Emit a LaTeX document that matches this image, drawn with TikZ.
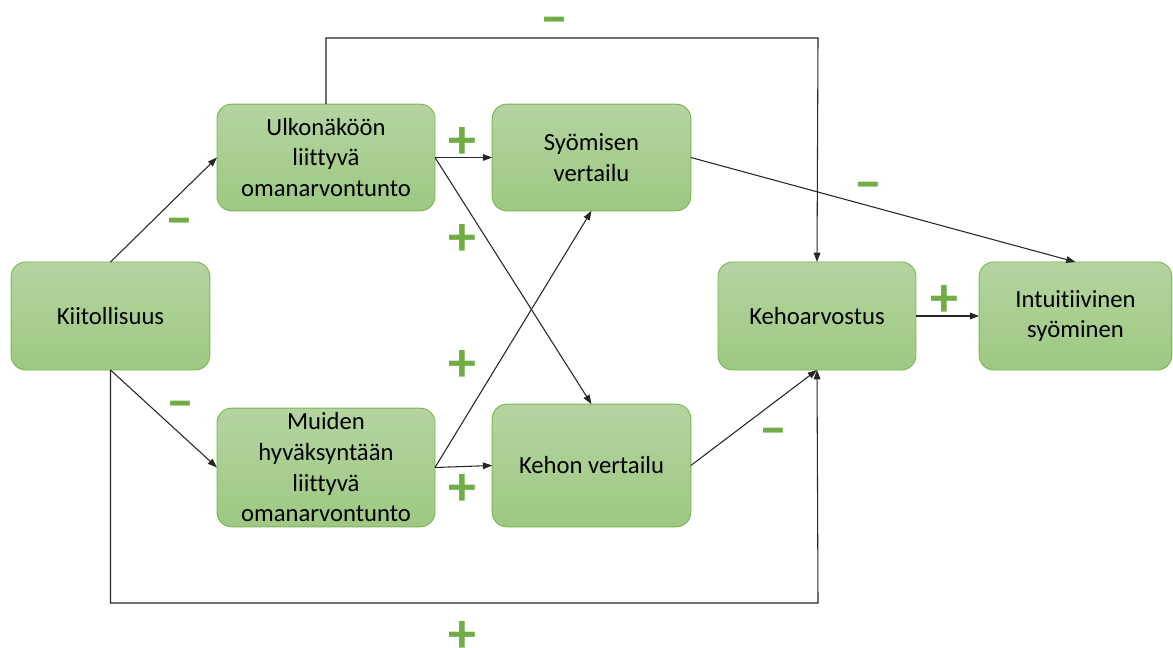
\documentclass[tikz,border=0pt]{standalone}
\usepackage{fontspec}
\setmainfont{Carlito}[Ligatures=NoCommon]
\usetikzlibrary{arrows.meta}
\definecolor{boxtop}{RGB}{180,212,160}
\definecolor{boxbottom}{RGB}{157,200,130}
\definecolor{boxline}{RGB}{122,182,82}
\definecolor{signgreen}{RGB}{112,173,71}
\begin{document}
\begin{tikzpicture}[x=0.75pt,y=-0.75pt,
  box/.style={rounded corners=11pt,draw=boxline,line width=0.7pt,top color=boxtop,bottom color=boxbottom,
    align=center,inner sep=0pt,outer sep=0pt,font=\fontsize{18.5}{23}\selectfont},
  sign/.style={text=signgreen,font=\fontsize{42}{42}\selectfont\bfseries,inner sep=0pt},
  link/.style={draw=black!85,line width=0.8pt,-{Triangle[length=7pt,width=5pt]}}]
\useasboundingbox (0,0) rectangle (1173,648);

\node[box,minimum width=149pt,minimum height=81pt] (kiit) at (110.5,316) {Kiitollisuus};
\node[box,minimum width=163.5pt,minimum height=80pt] (ulko) at (326,157.5) {Ulkonäköön\\liittyvä\\omanarvontunto};
\node[box,minimum width=163.5pt,minimum height=89pt] (muid) at (326,467.5) {Muiden\\hyväksyntään\\liittyvä\\omanarvontunto};
\node[box,minimum width=149pt,minimum height=80pt] (syov) at (591.5,157.5) {Syömisen\\vertailu};
\node[box,minimum width=149pt,minimum height=92pt] (kehv) at (591.5,465.5) {Kehon vertailu};
\node[box,minimum width=148.5pt,minimum height=81pt] (keho) at (817,316) {Kehoarvostus};
\node[box,minimum width=144.5pt,minimum height=81pt] (intu) at (1075.5,316) {Intuitiivinen\\syöminen};

\coordinate (topleft) at (ulko.north |- 0,38);
\coordinate (topright) at (818,38);
\coordinate (botleft) at (kiit.south |- 0,603);
\coordinate (botright) at (818,603);

\draw[link] (kiit.north) -- (ulko.west);
\draw[link] (kiit.south) -- (muid.west);
\draw[link] (ulko.east) -- (syov.west);
\draw[link] (ulko.east) -- (kehv.north);
\draw[link] (muid.east) -- (syov.south);
\draw[link] (muid.east) -- (kehv.west);
\draw[link] (syov.east) -- (intu.north);
\draw[link] (kehv.east) -- (keho.south);
\draw[link] (keho.east) -- (intu.west);
\draw[link] (ulko.north) -- (topleft) -- (topright) -- (keho.north);
\draw[link] (kiit.south) -- (botleft) -- (botright) -- (keho.south);

% signs: minus nodes sit a bit low, plus nodes slightly low
\node[sign] (s1) at (554,26) {–};
\node[sign] (s2) at (462,143) {+};
\node[sign] (s3) at (179,227) {–};
\node[sign] (s4) at (462,240) {+};
\node[sign] (s5) at (868,191) {–};
\node[sign] (s6) at (944,301) {+};
\node[sign] (s7) at (462,366) {+};
\node[sign] (s8) at (180,410) {–};
\node[sign] (s9) at (773,437) {–};
\node[sign] (s10) at (462,490) {+};
\node[sign] (s11) at (462,637) {+};
\end{tikzpicture}
\end{document}
